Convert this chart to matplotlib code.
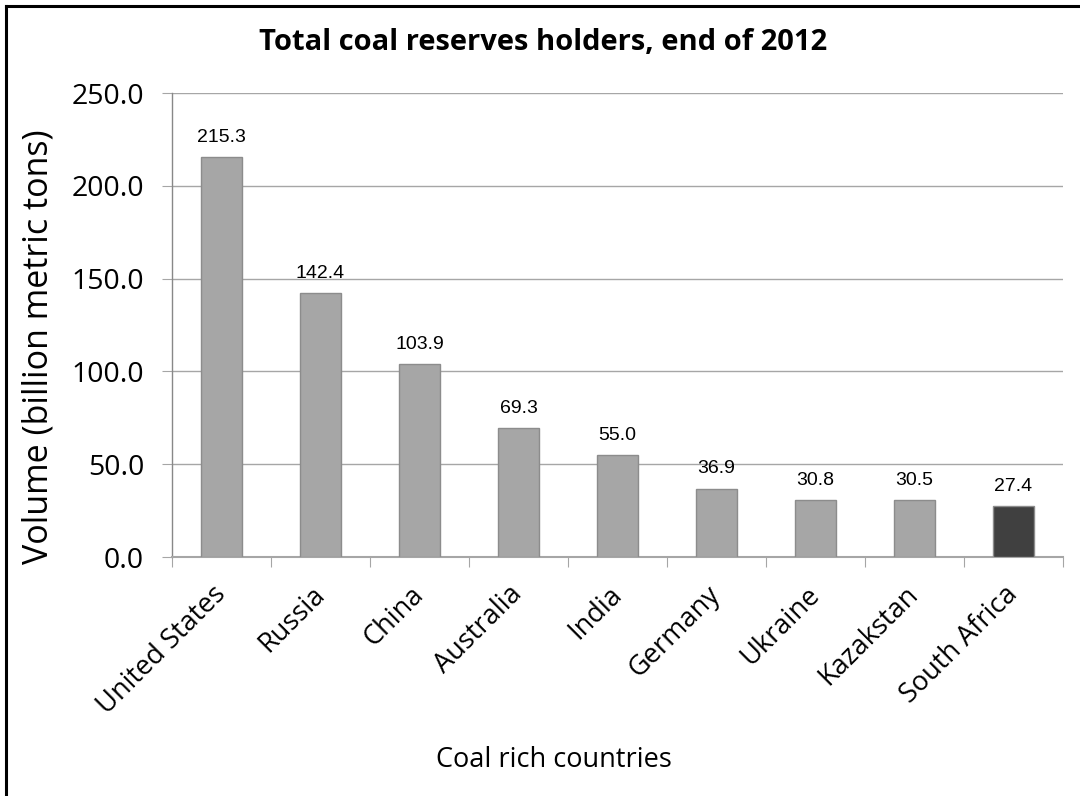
import matplotlib
matplotlib.use("Agg")
import matplotlib.pyplot as plt
from matplotlib.lines import Line2D

countries = ["United States", "Russia", "China", "Australia", "India",
             "Germany", "Ukraine", "Kazakstan", "South Africa"]
reserves = [215.3, 142.4, 103.9, 69.3, 55.0, 36.9, 30.8, 30.5, 27.4]
yticks = [0, 50, 100, 150, 200, 250]
title = "Total coal reserves holders, end of 2012"
xlabel = "Coal rich countries"
ylabel = "Volume (billion metric tons)"

plt.rcParams['font.family'] = ['Open Sans', 'DejaVu Sans']

fig = plt.figure(figsize=(10.8, 7.96), dpi=100)
ax = fig.add_axes([172/1080, 1-557/796, (1063-172)/1080, (557-93)/796])

colors = ['#A6A6A6'] * (len(countries) - 1) + ['#404040']
x = list(range(len(countries)))
bars = ax.bar(x, reserves, width=0.42, color=colors, edgecolor='#8C8C8C', linewidth=1, zorder=3)

for xi, v in zip(x, reserves):
    ax.annotate(f"{v:.1f}", (xi, v), xytext=(0, 8), textcoords='offset points',
                ha='center', va='bottom', fontsize=14, family='Liberation Sans')

ax.set_xlim(-0.5, len(countries) - 0.5)
ax.set_ylim(0, 250)
ax.set_yticks(yticks)
ax.set_yticklabels([f"{t:.1f}" for t in yticks])
ax.tick_params(axis='y', labelsize=20.5, length=7, color='#A6A6A6', pad=13, direction='out')
ax.yaxis.grid(True, color='#A6A6A6', linewidth=1, zorder=0)
ax.set_axisbelow(True)

ax.set_xticks([i - 0.5 for i in range(len(countries) + 1)], minor=False)
ax.set_xticklabels([])
ax.set_xticks(x, minor=True)
ax.set_xticklabels(countries, minor=True, rotation=45, ha='right', va='center',
                   rotation_mode='anchor', fontsize=19.5)
ax.tick_params(axis='x', which='major', length=7, color='#A6A6A6', direction='out')
ax.tick_params(axis='x', which='minor', length=0, pad=24)

for s in ['top', 'right']:
    ax.spines[s].set_visible(False)
ax.spines['left'].set_color('#888888')
ax.spines['bottom'].set_color('#A6A6A6')
ax.spines['left'].set_linewidth(1)
ax.spines['bottom'].set_linewidth(1.5)

fig.text(39/1080, 1-347/796, ylabel, rotation=90, ha='center', va='center', fontsize=24.5)
fig.text(554/1080, 1-760/796, xlabel, ha='center', va='center', fontsize=19.5)
fig.text(543/1080, 1-42/796, title, ha='center', va='center', fontsize=21, fontweight='bold')

fig.add_artist(Line2D([6/1080, 6/1080], [0, 1-6/796], color='black', linewidth=2.2, transform=fig.transFigure))
fig.add_artist(Line2D([6/1080, 1], [1-6/796, 1-6/796], color='black', linewidth=2.2, transform=fig.transFigure))

fig.savefig("out.png", dpi=100)
